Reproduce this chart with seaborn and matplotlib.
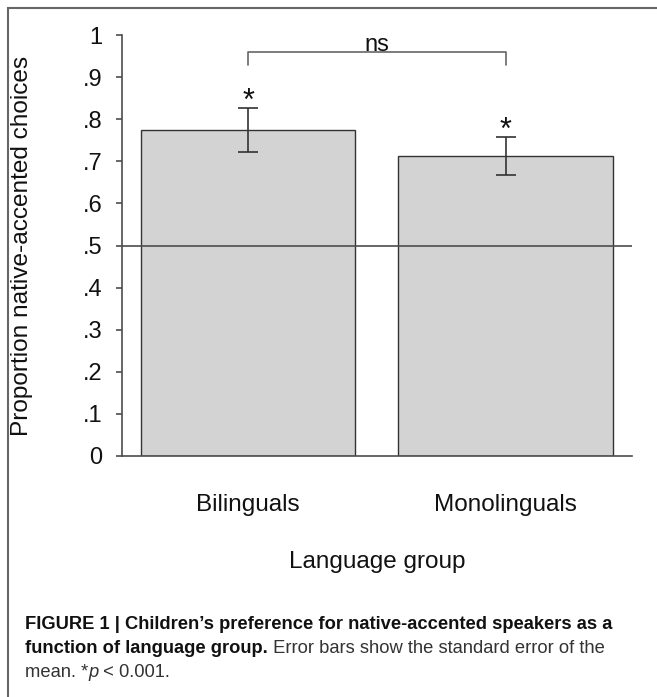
import matplotlib
matplotlib.use('Agg')
import matplotlib.pyplot as plt
import matplotlib.patches as patches
import pandas as pd
import seaborn as sns

# Данные
groups = ['Bilinguals', 'Monolinguals']
means = [0.774, 0.713]
se_low = [0.051, 0.046]
se_high = [0.052, 0.045]
sig_marks = ['*', '*']
y_ticks = [0, 0.1, 0.2, 0.3, 0.4, 0.5, 0.6, 0.7, 0.8, 0.9, 1.0]
y_ticklabels = ['0', '.1', '.2', '.3', '.4', '.5', '.6', '.7', '.8', '.9', '1']
chance = 0.5
bracket_label = 'ns'

df = pd.DataFrame({'group': groups, 'prop': means})

sns.set_style('white')
plt.rcParams['font.family'] = ['Liberation Sans', 'DejaVu Sans']

W, H = 657, 697
fig = plt.figure(figsize=(W / 100, H / 100), dpi=100)
ax = fig.add_axes([122 / W, 1 - 456 / H, (632 - 122) / W, (456 - 35) / H])

axis_col = '#4d4d4d'
sns.barplot(data=df, x='group', y='prop', color='#d3d3d3', saturation=1,
            edgecolor='#333333', linewidth=1.0, width=0.834, errorbar=None, ax=ax)

# Планки погрешностей
ax.errorbar(range(len(groups)), means, yerr=[se_low, se_high], fmt='none',
            ecolor='#333333', elinewidth=1.2, capsize=7.5, capthick=1.2, zorder=4)

# Линия случайного уровня
ax.axhline(chance, color=axis_col, lw=1.2, zorder=5)

# Звездочки
for i, (m, s, mark) in enumerate(zip(means, se_high, sig_marks)):
    ax.text(i, m + s - 0.004, mark, ha='center', va='baseline', fontsize=22, color='#111111')

# Скобка ns
ax.plot([0, 0, 1, 1], [0.929, 0.959, 0.959, 0.929], color='#666666', lw=1.2, clip_on=False)
ax.text(0.5, 0.963, bracket_label, ha='center', va='baseline', fontsize=17, color='#111111')

ax.set_xlim(-0.489, 1.49)
ax.set_ylim(0, 1)
ax.set_yticks(y_ticks)
ax.set_yticklabels(y_ticklabels)
ax.tick_params(axis='y', direction='out', length=4, width=1.2, color=axis_col,
               pad=10, labelsize=17, left=True, labelcolor='#111111')
ax.tick_params(axis='x', length=0, pad=27, labelsize=17.5, labelcolor='#111111')

sns.despine(ax=ax)
for side in ['left', 'bottom']:
    ax.spines[side].set_color(axis_col)
    ax.spines[side].set_linewidth(1.2)

ax.set_xlabel('Language group', fontsize=17.5, color='#111111')
ax.xaxis.set_label_coords(0.5, (456 - 562) / 421)
ax.xaxis.label.set_va('center')
ax.set_ylabel('Proportion native-accented choices', fontsize=17.6, color='#111111')
ax.yaxis.set_label_coords((22 - 122) / 510, 0.5)
ax.yaxis.label.set_va('center')

# Рамка вокруг рисунка
frame = patches.Rectangle((7.5 / W, -0.1), 1.2, 1 - 7.5 / H + 0.1, transform=fig.transFigure,
                          fill=False, edgecolor='#666666', lw=1.5, clip_on=False)
fig.add_artist(frame)

# Подпись к рисунку
cap_font = ['Liberation Sans', 'DejaVu Sans']
cap_size = 13.2
x0 = 25 / W
fig.text(x0, 1 - 629 / H, 'FIGURE 1 | Children\u2019s preference for native-accented speakers as a',
         family=cap_font, weight='bold', fontsize=cap_size, color='#111111', va='baseline')
t_bold = fig.text(x0, 1 - 653 / H, 'function of language group.',
                  family=cap_font, weight='bold', fontsize=cap_size, color='#111111', va='baseline')
ax.annotate(' Error bars show the standard error of the', xy=(1, 0), xycoords=t_bold,
            family=cap_font, fontsize=cap_size, color='#333333', va='bottom', annotation_clip=False)
t_mean = fig.text(x0, 1 - 677 / H, 'mean. *', family=cap_font, fontsize=cap_size,
                  color='#333333', va='baseline')
t_p = ax.annotate('p', xy=(1, 0), xycoords=t_mean, family=cap_font, style='italic',
                  fontsize=cap_size, color='#333333', va='bottom', annotation_clip=False)
ax.annotate(' < 0.001.', xy=(1, 0), xycoords=t_p, family=cap_font, fontsize=cap_size,
            color='#333333', va='bottom', annotation_clip=False)

plt.savefig('out.png', dpi=100)
plt.close()
